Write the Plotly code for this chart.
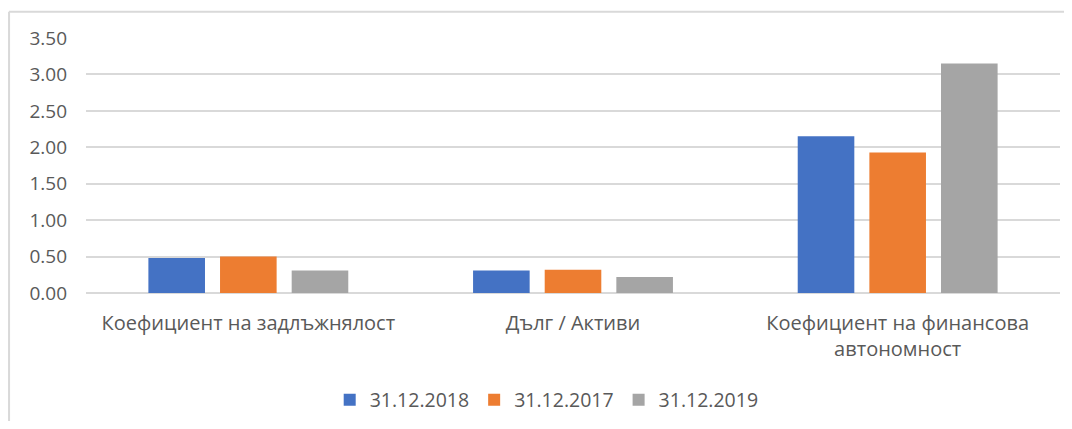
import plotly.graph_objects as go

categories = ["Коефициент на задлъжнялост", "Дълг / Активи", "Коефициент на финансова<br>автономност"]
series_names = ["31.12.2018", "31.12.2017", "31.12.2019"]
values_2018 = [0.48, 0.31, 2.15]
values_2017 = [0.50, 0.32, 1.93]
values_2019 = [0.31, 0.22, 3.15]
colors = ["#4472C4", "#ED7D31", "#A5A5A5"]
y_ticks = [0, 0.5, 1.0, 1.5, 2.0, 2.5, 3.0, 3.5]

font_family = "Open Sans"
text_color = "#595959"

fig = go.Figure()
for name, vals, col in zip(series_names, [values_2018, values_2017, values_2019], colors):
    fig.add_trace(go.Bar(name=name, x=categories, y=vals, marker_color=col, marker_line_width=0))

border = dict(color="#d9d9d9", width=2)

# page body adds an 8px offset; figure sized so no scrollbars appear
fig.update_layout(
    width=1056, height=413,
    margin=dict(l=78, r=4, t=30, b=128, autoexpand=False),
    paper_bgcolor="white", plot_bgcolor="white",
    barmode="group", bargap=0.338, bargroupgap=0.21,
    font=dict(family=font_family, size=19, color=text_color),
    showlegend=True,
    legend=dict(orientation="h", x=0.473, xanchor="center", y=-0.42, yanchor="middle",
                font=dict(size=19.5, color=text_color), itemwidth=30, traceorder="normal"),
    xaxis=dict(showgrid=False, showline=False, ticks="", automargin=False,
               tickfont=dict(size=20, color=text_color), ticklabelstandoff=16),
    yaxis=dict(range=[0, 3.5], tickvals=y_ticks, tickformat=".2f", showgrid=True, automargin=False,
               gridcolor="#d9d9d9", gridwidth=1.5, zeroline=True, zerolinecolor="#d9d9d9",
               zerolinewidth=2, showline=False, ticks="", ticklabelstandoff=18,
               tickfont=dict(size=19, color=text_color)),
    shapes=[
        dict(type="line", xref="paper", yref="paper", x0=-0.079, x1=-0.079, y0=-0.7, y1=1.103,
             line=border, layer="below"),
        dict(type="line", xref="paper", yref="paper", x0=-0.079, x1=1.3, y0=1.103, y1=1.103,
             line=border, layer="below"),
    ],
)

fig.write_html("out.html")
